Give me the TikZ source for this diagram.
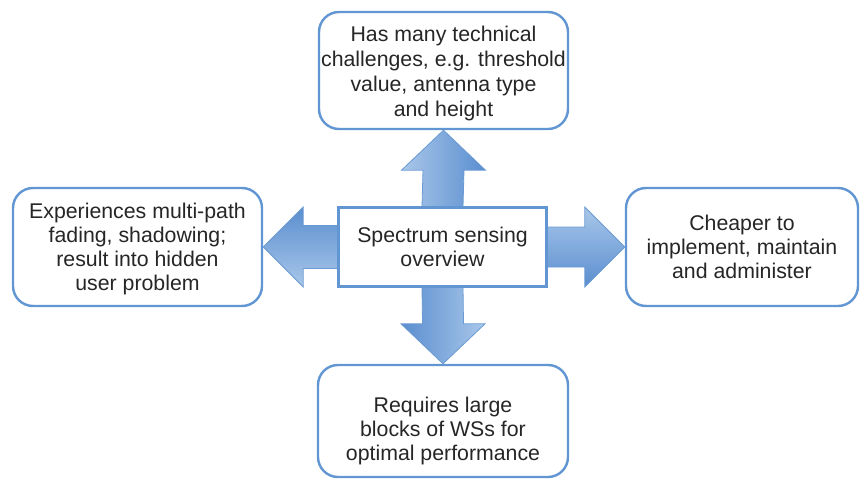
\documentclass[tikz,border=0pt]{standalone}
\usepackage{fontspec}
\setmainfont{Liberation Sans}
\usetikzlibrary{calc}
\definecolor{boxblue}{HTML}{6196D2}
\definecolor{arrowdark}{HTML}{5A8ECF}
\definecolor{arrowlight}{HTML}{A9C7EA}
\definecolor{arrowedge}{HTML}{6A9AD3}
\tikzset{
  infobox/.style={draw=boxblue, line width=2.4pt, rounded corners=20pt, fill=white,
    inner sep=0pt, align=center, font=\fontsize{21.3}{24}\selectfont, text=black!85},
  corebox/.style={draw=boxblue, line width=2pt, fill=white,
    inner sep=0pt, align=center, font=\fontsize{21.3}{24}\selectfont, text=black!85},
  plaintext/.style={inner sep=0pt, align=center, font=\fontsize{21.3}{24}\selectfont, text=black!85},
  blockarrow/.style={draw=arrowedge, line width=0.8pt, line join=miter}
}
\begin{document}
\begin{tikzpicture}[x=1pt,y=-1pt]
\useasboundingbox (0,0) rectangle (860,479);

% boxes
\node[corebox, minimum width=207pt, minimum height=78pt] (core) at (442.5,247)
  {Spectrum sensing\\overview};
\node[infobox, minimum width=249pt, minimum height=117pt] (top) at (443.5,70.5) {};
\node[plaintext, font=\fontsize{21.3}{25}\selectfont] (toptext) at ($(top.center)+(0,3)$)
  {Has many technical\\challenges, e.g. threshold\\value, antenna type\\and height};
\node[infobox, minimum width=249pt, minimum height=118pt] (left) at (137.5,247) {};
\node[plaintext] (lefttext) at ($(left.center)+(0,2)$)
  {Experiences multi-path\\fading, shadowing;\\result into hidden\\user problem};
\node[infobox, minimum width=232pt, minimum height=118pt] (right) at (742,247)
  {Cheaper to\\implement, maintain\\and administer};
\node[infobox, minimum width=250pt, minimum height=112pt] (bottom) at (443,421) {};
\node[plaintext] (bottomtext) at ($(bottom.center)+(0,10)$)
  {Requires large\\blocks of WSs for\\optimal performance};

% block arrows from the core box to each outer box
\path[blockarrow, left color=arrowlight, right color=arrowdark]
  (top.south) -- ($(top.south)+(42,40)$) -- ($(top.south)+(20.5,40)$)
  -- ($(core.north)+(20.5,0)$) -- ($(core.north)+(-20.5,0)$)
  -- ($(top.south)+(-20.5,40)$) -- ($(top.south)+(-42,40)$) -- cycle;
\path[blockarrow, left color=arrowdark, right color=arrowlight]
  (bottom.north) -- ($(bottom.north)+(42,-40)$) -- ($(bottom.north)+(20.5,-40)$)
  -- ($(core.south)+(20.5,0)$) -- ($(core.south)+(-20.5,0)$)
  -- ($(bottom.north)+(-20.5,-40)$) -- ($(bottom.north)+(-42,-40)$) -- cycle;
\path[blockarrow, top color=arrowdark, bottom color=arrowlight]
  (left.east) -- ($(left.east)+(40,-40)$) -- ($(left.east)+(40,-21.5)$)
  -- ($(core.west)+(0,-21.5)$) -- ($(core.west)+(0,21.5)$)
  -- ($(left.east)+(40,21.5)$) -- ($(left.east)+(40,40)$) -- cycle;
\path[blockarrow, top color=arrowlight, bottom color=arrowdark]
  (right.west) -- ($(right.west)+(-40,-40)$) -- ($(right.west)+(-40,-20)$)
  -- ($(core.east)+(0,-20)$) -- ($(core.east)+(0,20)$)
  -- ($(right.west)+(-40,20)$) -- ($(right.west)+(-40,40)$) -- cycle;

% redraw core box border on top of arrow ends
\draw[draw=boxblue, line width=2pt] (core.south west) rectangle (core.north east);
\end{tikzpicture}
\end{document}
